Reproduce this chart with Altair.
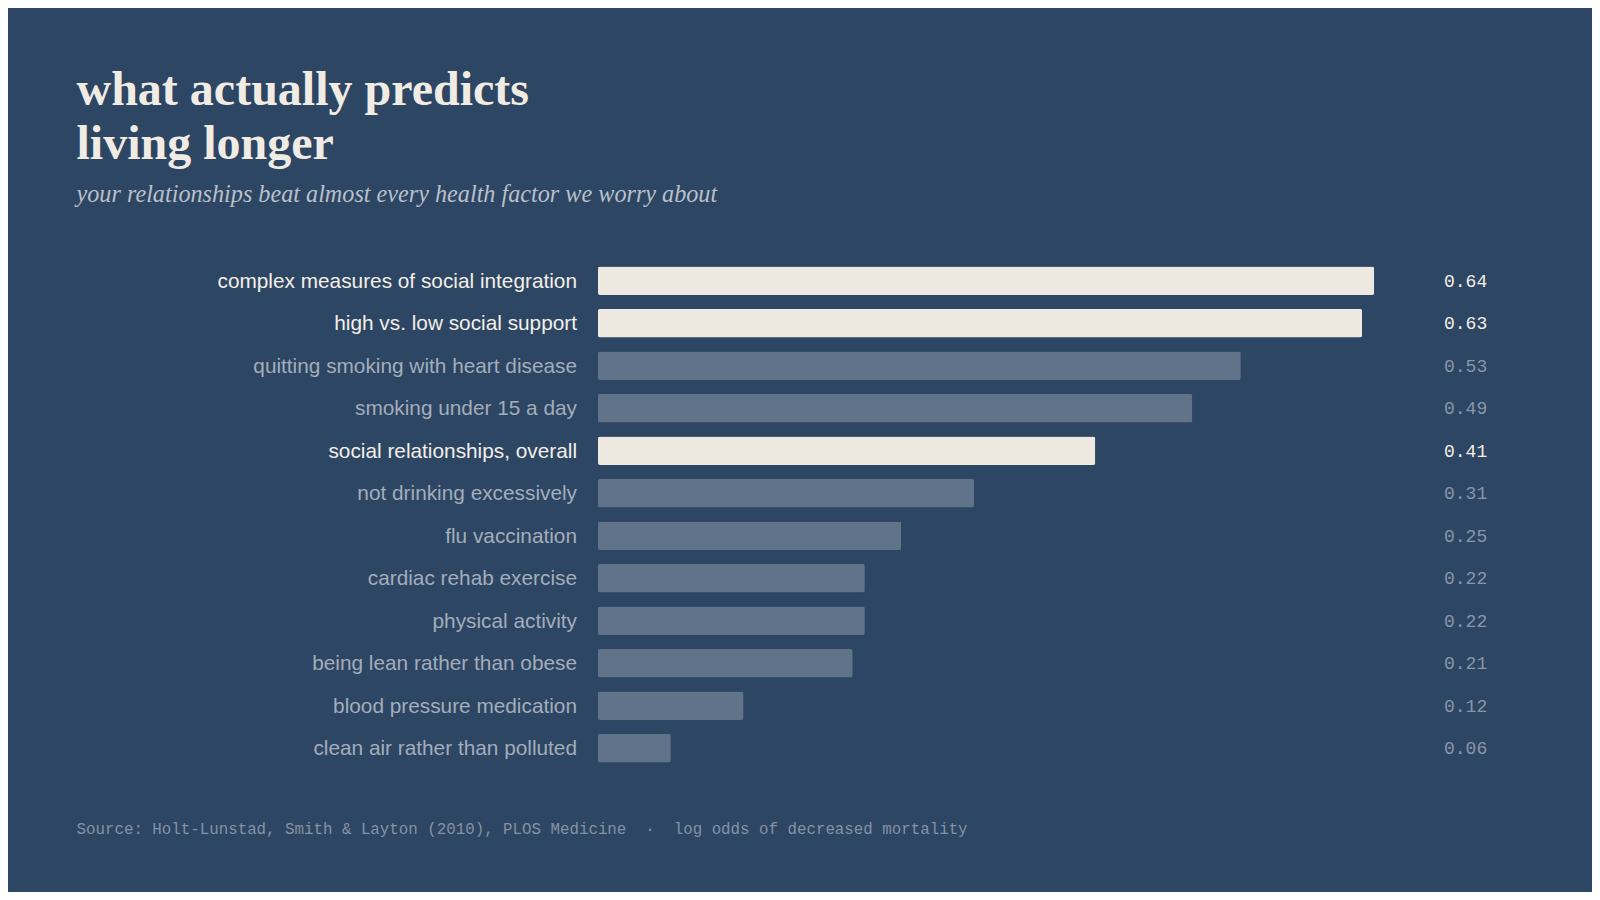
import altair as alt
import pandas as pd

labels = [
    "complex measures of social integration",
    "high vs. low social support",
    "quitting smoking with heart disease",
    "smoking under 15 a day",
    "social relationships, overall",
    "not drinking excessively",
    "flu vaccination",
    "cardiac rehab exercise",
    "physical activity",
    "being lean rather than obese",
    "blood pressure medication",
    "clean air rather than polluted",
]
values = [0.64, 0.63, 0.53, 0.49, 0.41, 0.31, 0.25, 0.22, 0.22, 0.21, 0.12, 0.06]
social = [True, True, False, False, True, False, False, False, False, False, False, False]

title_text_str = "what actually predicts\nliving longer"
subtitle = "your relationships beat almost every health factor we worry about"
footer = "Source: Holt-Lunstad, Smith & Layton (2010), PLOS Medicine\u00a0\u00a0\u00b7\u00a0\u00a0log odds of decreased mortality"

BG = "#2d4664"
CREAM = "#ede9e0"
MUTED_BAR = "#617389"

df = pd.DataFrame({
    "label": labels,
    "value": values,
    "group": ["social" if s else "other" for s in social],
})

W, H = 849, 510

yenc = alt.Y("label:N", sort=labels, axis=None,
             scale=alt.Scale(paddingInner=0.33, paddingOuter=0.165))

base = alt.Chart(df)

bars = base.mark_bar(cornerRadius=2).encode(
    x=alt.X("value:Q", axis=None, scale=alt.Scale(domain=[0, 0.7], nice=False)),
    y=yenc,
    color=alt.Color("group:N", legend=None,
                    scale=alt.Scale(domain=["social", "other"], range=[CREAM, MUTED_BAR])),
)

label_text = base.mark_text(align="right", baseline="middle", font="Liberation Sans",
                            fontSize=20.8, dy=1).encode(
    y=yenc,
    x=alt.value(-21),
    text="label:N",
    color=alt.Color("group:N", legend=None,
                    scale=alt.Scale(domain=["social", "other"], range=["#f3efe7", "#a3adbb"])),
)

value_text = base.mark_text(align="left", baseline="middle", font="Liberation Mono",
                            fontSize=18, dy=1).encode(
    y=yenc,
    x=alt.value(846),
    text=alt.Text("value:Q", format=".2f"),
    color=alt.Color("group:N", legend=None,
                    scale=alt.Scale(domain=["social", "other"], range=["#f3efe7", "#8a96a7"])),
)

title_text = alt.Chart(pd.DataFrame({"t": [title_text_str]})).mark_text(
    align="left", baseline="alphabetic", font="Liberation Serif", fontSize=48,
    fontWeight="bold", color="#f1ece3", lineBreak="\n", lineHeight=54).encode(
    text="t:N", x=alt.value(-521.5), y=alt.value(-154.4))

sub_text = alt.Chart(pd.DataFrame({"t": [subtitle]})).mark_text(
    align="left", baseline="alphabetic", font="Liberation Serif", fontSize=24.2,
    fontStyle="italic", color="#b9c0ca").encode(
    text="t:N", x=alt.value(-521.5), y=alt.value(-57.4))

foot_text = alt.Chart(pd.DataFrame({"t": [footer]})).mark_text(
    align="left", baseline="alphabetic", font="Liberation Mono", fontSize=15.8,
    color="#8592a3").encode(
    text="t:N", x=alt.value(-521.5), y=alt.value(574.6))

chart = alt.layer(bars, label_text, value_text, title_text, sub_text, foot_text).resolve_scale(
    color="independent"
).properties(
    width=W, height=H,
    autosize=alt.AutoSizeParams(type="none"),
    padding={"left": 590, "top": 251.4, "right": 145, "bottom": 122.6},
    background=BG,
).configure_view(stroke=None)

chart.save("out.html", embed_options={"renderer": "svg", "actions": False})
